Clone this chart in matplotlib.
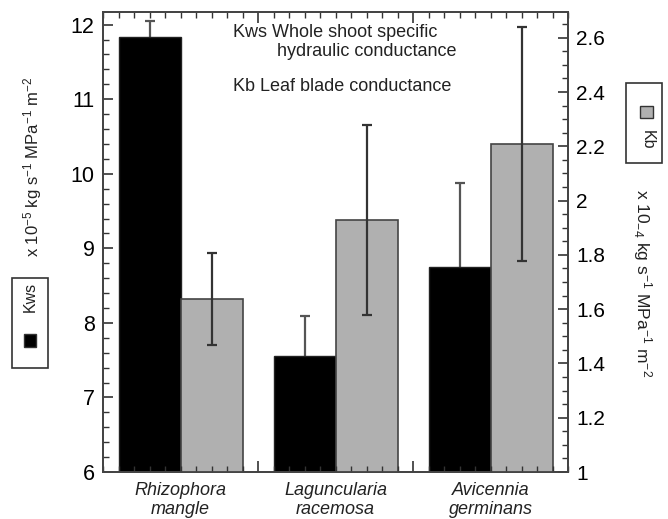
import matplotlib
matplotlib.use("Agg")
import matplotlib.pyplot as plt
from matplotlib.patches import Rectangle
from matplotlib.ticker import MultipleLocator, FuncFormatter
import numpy as np

# species and values
species = ["Rhizophora\nmangle", "Laguncularia\nracemosa", "Avicennia\ngerminans"]
kws = [11.83, 7.56, 8.75]          # x 10^-5 kg s-1 MPa-1 m-2 (left axis)
kws_err = [0.22, 0.53, 1.13]
kb = [1.637, 1.929, 2.209]         # x 10^-4 kg s-1 MPa-1 m-2 (right axis)
kb_err = [0.17, 0.35, 0.43]

plt.rcParams['font.family'] = ['Liberation Sans', 'DejaVu Sans']
plt.rcParams['mathtext.fontset'] = 'custom'
plt.rcParams['mathtext.rm'] = 'Liberation Sans'
plt.rcParams['mathtext.it'] = 'Liberation Sans:italic'

W, H = 668, 519
fig = plt.figure(figsize=(W/100, H/100), dpi=100)
ax = fig.add_axes([103/W, 1-472/H, 465/W, 460/H])
ax2 = ax.twinx()

x = np.arange(len(species))
w = 0.4
# error bars behind the black bars so only the upper half shows
ax.errorbar(x - w/2, kws, yerr=kws_err, fmt='none', ecolor='#555555',
            elinewidth=1.6, capsize=3.5, capthick=1.6, zorder=0.5)
ax.bar(x - w/2, kws, w, color='black', edgecolor='#222222', lw=1, zorder=1)
ax2.bar(x + w/2, kb, w, color='#b0b0b0', edgecolor='#444444', lw=1.2)
ax2.errorbar(x + w/2, kb, yerr=kb_err, fmt='none', ecolor='#333333',
             elinewidth=1.6, capsize=3.5, capthick=1.6)

ax.set_xlim(-0.5, 2.5)
ax.set_ylim(6, 12.17)
ax2.set_ylim(1, 2.695)

fmt = FuncFormatter(lambda v, p: '%g' % round(v, 2))
ax.yaxis.set_major_locator(MultipleLocator(1))
ax.yaxis.set_minor_locator(MultipleLocator(0.2))
ax2.yaxis.set_major_locator(MultipleLocator(0.2))
ax2.yaxis.set_minor_locator(MultipleLocator(0.05))
ax2.yaxis.set_major_formatter(fmt)
ax.tick_params(axis='y', which='both', direction='in', labelsize=15.5, pad=6, color='#333333')
ax.tick_params(axis='y', which='major', length=7, width=1.2)
ax.tick_params(axis='y', which='minor', length=4, width=1)
ax2.tick_params(axis='y', which='both', direction='in', labelsize=15, pad=6, color='#333333')
ax2.tick_params(axis='y', which='major', length=7, width=1.2)
ax2.tick_params(axis='y', which='minor', length=4, width=1)

# x ticks live on the top axes so they show over the grey bars
ax.xaxis.set_visible(False)
ax2.xaxis.set_visible(True)
ax2.set_xticks([0.5, 1.5])
ax2.xaxis.set_minor_locator(MultipleLocator(0.1))
ax2.tick_params(axis='x', which='both', direction='in', top=True, bottom=True,
                labelbottom=False, labeltop=False, color='#333333')
ax2.tick_params(axis='x', which='major', length=8, width=1.2)
ax2.tick_params(axis='x', which='minor', length=4, width=1)

for a in (ax, ax2):
    for s in a.spines.values():
        s.set_color('#444444')
        s.set_linewidth(1.3)

for xi, name in zip(x, species):
    ax.text(xi, -0.022, name, transform=ax.get_xaxis_transform(), ha='center',
            va='top', style='italic', fontsize=13, linespacing=1.15, color='#222222')

ax.text(0.28, 0.955, "Kws Whole shoot specific", transform=ax.transAxes, fontsize=13, color='#222222', va='center')
ax.text(0.375, 0.915, "hydraulic conductance", transform=ax.transAxes, fontsize=13, color='#222222', va='center')
ax.text(0.28, 0.839, "Kb Leaf blade conductance", transform=ax.transAxes, fontsize=13, color='#222222', va='center')

fig.text(33/W, 1-167/H, "x 10$^{-5}$ kg s$^{-1}$ MPa$^{-1}$ m$^{-2}$", rotation=90,
         ha='center', va='center', fontsize=12, color='#222222')
fig.text(642/W, 1-283/H, "x 10$_{-4}$ kg s$^{-1}$ MPa$^{-1}$ m$^{-2}$", rotation=-90,
         ha='center', va='center', fontsize=12.5, color='#222222')

# legend boxes
fig.patches.append(Rectangle((12/W, 1-368/H), 36/W, 90/H, transform=fig.transFigure,
                             fill=False, edgecolor='#333333', lw=1.2))
fig.patches.append(Rectangle((24/W, 1-347/H), 12/W, 13/H, transform=fig.transFigure,
                             facecolor='black', edgecolor='#333333', lw=1))
fig.text(30/W, 1-297/H, "Kws", rotation=90, ha='center', va='center', fontsize=11.5, color='#222222')

fig.patches.append(Rectangle((626/W, 1-163/H), 36/W, 80/H, transform=fig.transFigure,
                             fill=False, edgecolor='#333333', lw=1.2))
fig.patches.append(Rectangle((640/W, 1-118/H), 13/W, 12/H, transform=fig.transFigure,
                             facecolor='#b0b0b0', edgecolor='#333333', lw=1))
fig.text(647/W, 1-140/H, "Kb", rotation=-90, ha='center', va='center', fontsize=11.5, color='#222222')

fig.savefig("out.png", dpi=100)
